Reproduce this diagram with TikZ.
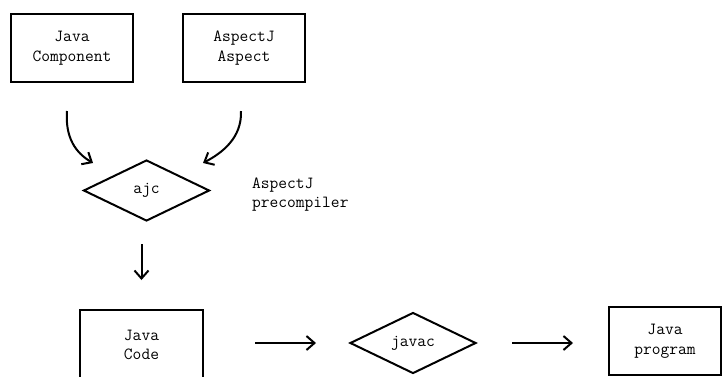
\documentclass[tikz,border=0pt]{standalone}
\usetikzlibrary{shapes.geometric,arrows.meta}
\begin{document}
\begin{tikzpicture}[x=1pt,y=-1pt,
  every node/.style={font=\ttfamily\fontsize{17}{19.5}\selectfont, align=center, inner sep=0pt},
  box/.style={draw, line width=2pt, minimum width=122pt, minimum height=68pt},
  decision/.style={draw, diamond, line width=2pt, minimum width=126pt, minimum height=61pt},
  flow/.style={line width=2pt, -{Straight Barb[length=8pt,width=14pt,line width=2pt]}},
]
\clip (0,0) rectangle (723,376);
\useasboundingbox (0,0) rectangle (723,376);

% source inputs
\node[box] (comp) at (72,48) {Java\\Component};
\node[box] (asp) at (244,48) {AspectJ\\Aspect};

% weaving step
\node[decision] (ajc) at (146.5,190.5) {ajc};
\node[anchor=west, align=left] (pre) at (252,194.5) {AspectJ\\precompiler};

% compile chain
\node[box, minimum width=123pt, minimum height=70pt] (code) at (141.5,345) {Java\\Code};
\node[decision] (javac) at (413,343) {javac};
\node[box, minimum width=112pt] (prog) at (665,341) {Java\\program};

% curved feeds into ajc
\coordinate (c1s) at (67,111);
\coordinate (c1e) at (93,163);
\coordinate (c2s) at (241,111);
\coordinate (c2e) at (203,163);
\draw[flow] (c1s) .. controls (65,138) and (76,153) .. (c1e);
\draw[flow] (c2s) .. controls (242,138) and (222,153) .. (c2e);

% straight connectors
\draw[flow, shorten <=22pt, shorten >=29pt] (ajc.south -| code.north) -- (code.north);
\draw[flow, shorten <=51pt, shorten >=33pt] (code.east |- javac.west) -- (javac.west);
\draw[flow, shorten <=35pt, shorten >=35pt] (javac.east) -- (javac.east -| prog.west);
\end{tikzpicture}
\end{document}
